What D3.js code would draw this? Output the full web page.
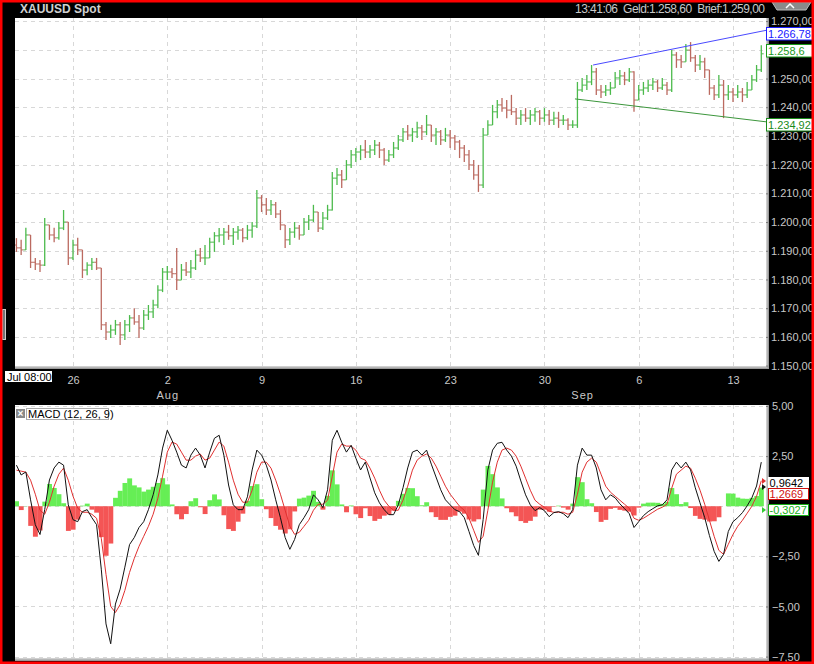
<!DOCTYPE html>
<html><head><meta charset="utf-8">
<script src="https://cdn.jsdelivr.net/npm/d3@7"></script>
<style>
html,body{margin:0;padding:0;background:#000;}
svg{display:block;font-family:"Liberation Sans",Arial,sans-serif;}
</style></head><body>
<svg id="c" width="814" height="664"></svg>
<script>
// ---------- data ----------
const dayTicks = [0,5,10,15,20,25,30,35];            // trading-day offsets (Mondays)
const dayLabels = ["26","2","9","16","23","30","6","13"];
const monthTicks = [5,27];
const monthLabels = ["Aug","Sep"];
const priceGrid = [1150,1160,1170,1180,1190,1200,1210,1220,1230,1240,1250,1260,1270];
const priceTicks = [1150,1160,1170,1180,1190,1200,1210,1220,1230,1240,1250,1270];
const macdGrid = [5,2.5,0,-2.5,-5,-7.5];
const macdTicks = [5,2.5,-2.5,-5,-7.5];
const firstDay = -3, barStep = 0.25;
const open0 = 1192.0;
const high = [1194.4,1193.8,1198,1195.5,1187.5,1186.8,1201.4,1199,1198,1200,
1204.2,1200,1193.8,1194.5,1190.3,1186,1187.5,1187.5,1184,1165.2,
1164.2,1165.9,1165.2,1165.9,1167.6,1170,1167.6,1169.4,1171.1,1172.9,
1178,1184,1184.7,1184,1191,1185.4,1186.1,1186.8,1190.3,1191,
1192,1194.5,1196.5,1197.9,1197.9,1199,1197.9,1198.6,1197.9,1199,
1200,1211.2,1209.4,1208.4,1207.7,1207,1204.2,1199,1197.9,1200,
1199,1201.4,1202.5,1206,1203.5,1203.5,1206,1217.4,1218.8,1218.1,
1221.6,1225.1,1225.8,1226.8,1228.6,1226.8,1228.6,1227.9,1225.8,1225.1,
1227.9,1230.3,1232.8,1233.8,1232.8,1234.9,1233.8,1237.3,1233.8,1232.8,
1232.1,1232.8,1232.1,1230.3,1228.6,1226.8,1225.1,1221.6,1219.9,1232.8,
1235.5,1240.8,1242.5,1243.2,1242.5,1244.3,1239.7,1239,1239.7,1239,
1239.7,1239,1239.7,1239,1238.4,1238.4,1237.3,1236.2,1235.5,1248.8,
1250.2,1251.2,1254.7,1253.7,1247.7,1247.7,1248.8,1252.3,1253,1252.3,
1253.7,1252.5,1247.7,1248.8,1249.5,1250.2,1249.5,1250.2,1248.8,1259.9,
1259.2,1258.2,1262,1262.7,1258.2,1258.2,1257.2,1253,1247.7,1251.2,
1249.5,1247.7,1246.7,1247.7,1246.7,1248.8,1251.2,1254.7,1261.6];
const low = [1189.6,1188.5,1190.3,1184,1183.3,1182.6,1184.7,1193.8,1193,1193.8,
1197.2,1185,1186.8,1188.5,1180.5,1181.5,1183.3,1183.3,1162.4,1158.9,
1159.6,1160.7,1157.2,1158.9,1161.7,1164.2,1159.6,1162.4,1165.9,1166.6,
1170,1175.6,1179.8,1180.5,1176.3,1179.8,1181.2,1180.5,1183.3,1186.1,
1185,1187.5,1189.6,1193,1192,1193.8,1192,1193.8,1193,1193.8,
1194.5,1197.9,1203.5,1202.5,1202.5,1201.4,1197.2,1191,1192,1194.5,
1193.8,1195.5,1197.2,1200,1196.5,1197.2,1200.7,1204,1212.9,1211.9,
1214.7,1218.8,1220.9,1221.6,1222.3,1222.3,1223.4,1222.3,1219.9,1220.9,
1222.3,1225.1,1227.9,1228.6,1227.9,1229.3,1228.6,1230.3,1227.9,1226.8,
1226.8,1227.9,1225.8,1225.1,1222.3,1220.9,1218.1,1214.7,1210.5,1211.9,
1230.3,1233.8,1236.2,1238.4,1236.2,1237.3,1233.8,1233.8,1234.9,1233.8,
1234.9,1233.8,1234.9,1233.8,1233.8,1232.8,1233.8,1232.1,1232.8,1232.8,
1245.3,1246,1247.7,1244.3,1243.2,1243.9,1244.3,1246.7,1247.7,1247.7,
1248.8,1238.4,1242.5,1244.3,1245.3,1246,1245.3,1246,1244.3,1245.3,
1253.7,1253.7,1255.8,1255.8,1252.3,1253,1250.2,1244.3,1242.5,1243.2,
1236.2,1242.5,1241.8,1243.2,1241.8,1243.2,1246,1248.8,1252.3];
const close = [1191.0,1190.3,1195.5,1186,1185.4,1185,1199,1195.5,1194.5,1197.9,
1200,1187.5,1192,1190.3,1183.3,1185,1186,1184,1164.2,1161.7,
1162.4,1164.2,1160.7,1164.2,1166.6,1165.2,1163.1,1167.6,1168.7,1171.1,
1176.3,1182.6,1182.6,1182,1179.8,1183.3,1182.6,1184,1188.5,1187.5,
1187.5,1193,1195.2,1195.5,1196.5,1195.2,1196.5,1197.2,1194.5,1197.2,
1198.6,1208.4,1206,1204.2,1206,1202.8,1199,1193.8,1196.5,1197.9,
1195.5,1200,1200.7,1203.5,1197.9,1201.4,1204.2,1215.3,1216.4,1214.7,
1219.9,1223.4,1224.4,1225.1,1224.4,1225.1,1226.8,1225.1,1221.6,1223.4,
1225.8,1228.6,1231.4,1230.3,1231.4,1232.8,1231.4,1233.8,1230.3,1231.4,
1228.6,1230.3,1229.3,1227.9,1225.8,1223.4,1219.9,1216.4,1212.9,1230.3,
1233.8,1238.4,1240.8,1239.7,1239,1238.4,1236.2,1237.3,1236.2,1237.3,
1238.4,1236.2,1237.3,1235.5,1236.2,1235.5,1235.5,1233.8,1233.8,1246,
1247.7,1248.8,1252.3,1246,1245.3,1246,1246.7,1250.2,1250.9,1249.5,
1252.3,1242.5,1246,1246.7,1247.7,1248.8,1246.7,1247.7,1246,1258.2,
1256.5,1255.8,1259.9,1257.2,1254.7,1255.8,1253,1246.7,1244.3,1247.7,
1244.3,1245.3,1244.3,1245.3,1244.3,1246,1249.5,1253,1258.6];
const macdLine = [2.05,1.56,1.71,0.32,-0.92,-1.41,-0.17,1.31,1.91,2.20,
2.05,0.07,-0.67,-0.77,-0.27,-0.17,-0.57,-0.92,-3.14,-5.87,
-6.86,-4.88,-4.13,-3.04,-1.91,-1.56,-1.06,-0.77,-0.17,0.57,
1.56,2.90,3.79,3.29,2.70,2.05,1.91,2.55,2.90,2.55,
1.91,2.70,3.39,3.54,2.55,1.06,0.07,-0.17,-0.17,0.47,
1.81,2.80,2.55,2.05,1.31,0.32,-0.57,-1.56,-2.15,-1.66,
-0.92,-0.57,-0.17,0.57,0.32,-0.07,0.82,3.29,3.79,3.19,
2.70,3.04,2.40,1.81,2.20,1.41,0.67,0.17,-0.17,-0.42,
-0.42,0.07,0.92,1.91,2.70,2.80,2.55,2.80,2.10,1.46,
0.82,0.32,0.07,-0.17,-0.27,-0.57,-1.26,-1.96,-2.45,-0.67,
1.81,2.80,3.14,3.19,2.80,2.50,2.00,1.26,0.57,0.07,
-0.22,-0.07,-0.22,-0.52,-0.32,-0.27,-0.37,-0.57,-0.17,2.05,
2.90,2.55,2.55,1.91,0.82,0.32,0.57,0.42,0.12,-0.12,
-0.37,-1.06,-0.77,-0.47,-0.27,-0.12,0.02,0.07,0.32,1.81,
2.20,1.91,2.20,1.81,0.92,0.17,-0.57,-1.46,-2.25,-2.75,
-2.40,-1.26,-0.77,-0.57,-0.32,0.02,0.42,1.01,2.20];
const signalLine = [1.8,1.75,1.7,1.3,0.6,-0.2,-0.4,0.2,1.0,1.6,
1.9,1.3,0.5,-0.1,-0.3,-0.3,-0.4,-0.6,-1.6,-3.4,
-5.0,-5.3,-4.9,-4.2,-3.3,-2.6,-2.0,-1.5,-1.0,-0.4,
0.4,1.5,2.7,3.2,3.1,2.7,2.3,2.3,2.5,2.6,
2.3,2.4,2.8,3.2,3.0,2.2,1.3,0.6,0.2,0.2,
0.8,1.7,2.2,2.2,1.9,1.3,0.6,-0.2,-1.0,-1.4,
-1.3,-1.0,-0.7,-0.2,0.1,0.1,0.3,1.5,2.7,3.1,
3.0,3.0,2.8,2.4,2.3,1.9,1.4,0.8,0.3,0.0,
-0.2,-0.2,0.3,1.0,1.8,2.3,2.5,2.6,2.4,2.0,
1.5,1.0,0.6,0.3,0.0,-0.2,-0.6,-1.2,-1.8,-1.5,
-0.2,1.2,2.2,2.8,2.9,2.8,2.5,2.0,1.4,0.8,
0.3,0.1,-0.05,-0.25,-0.3,-0.3,-0.3,-0.4,-0.3,0.6,
1.7,2.2,2.4,2.2,1.6,1.0,0.7,0.5,0.3,0.1,
-0.1,-0.6,-0.7,-0.6,-0.45,-0.3,-0.15,-0.05,0.1,0.9,
1.6,1.8,2.0,1.9,1.4,0.8,0.1,-0.7,-1.5,-2.2,
-2.4,-1.9,-1.4,-1.0,-0.7,-0.35,0.0,0.5,1.27];
const upperTrend = [{day:27.58, p:1254.7},{day:36.75, p:1266.78}];
const lowerTrend = [{day:26.62, p:1242.9},{day:36.75, p:1234.92}];
const headerRight = "13:41:06  Geld:1.258,60  Brief:1.259,00";
const priceBoxes = [{t:"1.266,78",y:33.5,c:"#2020ff"},{t:"1.258,6",y:50.5,c:"#1a9a1a"},{t:"1.234,92",y:124.5,c:"#1a8a1a"}];
const macdBoxes = [{t:"0,9642",c:"#000",y:483},{t:"1,2669",c:"#d01010",y:494},{t:"-0,3027",c:"#18b018",y:510}];

// ---------- setup ----------
const W=814,H=664;
const svg=d3.select("#c");
const P={x0:15,x1:766,y0:18,y1:366};
const M={x0:15,x1:766,y0:405,y1:658};
const x=d3.scaleLinear().domain([0,35]).range([73,733]);
const yP=d3.scaleLinear().domain([1150,1270]).range([365.6,21.1]);
const yM=d3.scaleLinear().domain([-7.5,5]).range([656.6,406]);
const de=d3.formatLocale({decimal:",",thousands:".",grouping:[3],currency:["","€"]});
const fP=de.format(",.2f");
const fM=de.format(".2f");
const txtCol="#c8c8c8";

svg.append("rect").attr("width",W).attr("height",H).attr("fill","#000");

// panels with bevel
[P,M].forEach(r=>{
  svg.append("rect").attr("x",r.x0).attr("y",r.y0).attr("width",r.x1-r.x0+3).attr("height",r.y1-r.y0+3).attr("fill","#9a9a9a");
  svg.append("rect").attr("x",r.x0).attr("y",r.y0).attr("width",r.x1-r.x0+1.5).attr("height",r.y1-r.y0+1.5).attr("fill","#cfcfcf");
  svg.append("rect").attr("x",r.x0).attr("y",r.y0).attr("width",r.x1-r.x0).attr("height",r.y1-r.y0).attr("fill","#fff");
});
const defs=svg.append("defs");
defs.append("clipPath").attr("id","cp").append("rect").attr("x",P.x0).attr("y",P.y0).attr("width",P.x1-P.x0).attr("height",P.y1-P.y0);
defs.append("clipPath").attr("id","cm").append("rect").attr("x",M.x0).attr("y",M.y0).attr("width",M.x1-M.x0).attr("height",M.y1-M.y0);

const gridStyle=s=>s.attr("stroke","#d8d8d8").attr("stroke-width",1).attr("stroke-dasharray","4,4").attr("shape-rendering","crispEdges");
const gP=svg.append("g").attr("clip-path","url(#cp)");
gP.selectAll(".hv").data(dayTicks).join("line").attr("x1",d=>Math.round(x(d))+.5).attr("x2",d=>Math.round(x(d))+.5).attr("y1",P.y0).attr("y2",P.y1).call(gridStyle);
gP.selectAll(".hh").data(priceGrid).join("line").attr("x1",P.x0).attr("x2",P.x1).attr("y1",d=>Math.round(yP(d))+.5).attr("y2",d=>Math.round(yP(d))+.5).call(gridStyle);
const gM=svg.append("g").attr("clip-path","url(#cm)");
gM.selectAll(".mv").data(dayTicks).join("line").attr("x1",d=>Math.round(x(d))+.5).attr("x2",d=>Math.round(x(d))+.5).attr("y1",M.y0).attr("y2",M.y1).call(gridStyle);
gM.selectAll(".mh").data(macdGrid).join("line").attr("x1",M.x0).attr("x2",M.x1).attr("y1",d=>Math.round(yM(d))+.5).attr("y2",d=>Math.round(yM(d))+.5).call(gridStyle);

// price bars
const bars=close.map((c,i)=>({d:firstDay+i*barStep,o:i?close[i-1]:open0,h:high[i],l:low[i],c}));
const up="#4cba4c", dn="#bb6a60";
const gb=gP.append("g").attr("stroke-width",1);
bars.forEach(b=>{
  const xx=x(b.d), col=b.c>=b.o?up:dn;
  gb.append("line").attr("x1",xx).attr("x2",xx).attr("y1",yP(Math.max(b.h,b.o,b.c))).attr("y2",yP(Math.min(b.l,b.o,b.c))).attr("stroke",col).attr("stroke-width",1.3);
  gb.append("line").attr("x1",xx-2.4).attr("x2",xx).attr("y1",yP(b.o)).attr("y2",yP(b.o)).attr("stroke",col);
  gb.append("line").attr("x1",xx).attr("x2",xx+2.4).attr("y1",yP(b.c)).attr("y2",yP(b.c)).attr("stroke",col);
});
const tl=d3.line().x(d=>x(d.day)).y(d=>yP(d.p));
gP.append("path").attr("d",tl(upperTrend)).attr("fill","none").attr("stroke","#4a4aff").attr("stroke-width",1);
gP.append("path").attr("d",tl(lowerTrend)).attr("fill","none").attr("stroke","#3c963c").attr("stroke-width",1);

// MACD histogram and lines
const bw=x(barStep)-x(0);
const hist=macdLine.map((m,i)=>({d:firstDay+i*barStep,v:m-signalLine[i]}));
gM.selectAll(".hb").data(hist).join("rect")
  .attr("x",d=>x(d.d)-bw/2).attr("width",bw+0.2)
  .attr("y",d=>Math.min(yM(0),yM(d.v))).attr("height",d=>Math.abs(yM(d.v)-yM(0)))
  .attr("fill",d=>d.v>=0?"#66ee55":"#f45555");
const ml=d3.line().x((d,i)=>x(firstDay+i*barStep)).y(d=>yM(d));
gM.append("path").attr("d",ml(signalLine)).attr("fill","none").attr("stroke","#e03030").attr("stroke-width",1);
gM.append("path").attr("d",ml(macdLine)).attr("fill","none").attr("stroke","#111").attr("stroke-width",1);

// axes
const axP=svg.append("g").attr("transform",`translate(${P.x1},0)`)
  .call(d3.axisRight(yP).tickValues(priceTicks).tickFormat(fP).tickSize(2).tickPadding(3));
const axM=svg.append("g").attr("transform",`translate(${M.x1},0)`)
  .call(d3.axisRight(yM).tickValues(macdTicks).tickFormat(fM).tickSize(2).tickPadding(4));
const axX=svg.append("g").attr("transform","translate(0,374)")
  .call(d3.axisBottom(x).tickValues(dayTicks).tickFormat((d,i)=>dayLabels[i]).tickSize(0).tickPadding(2));
const axMo=svg.append("g").attr("transform","translate(0,389)")
  .call(d3.axisBottom(x).tickValues(monthTicks).tickFormat((d,i)=>monthLabels[i]).tickSize(0).tickPadding(2));
[axP,axM,axX,axMo].forEach(a=>{
  a.select(".domain").remove();
  a.selectAll("text").attr("fill",txtCol).style("font-size","11px").style("font-family","'Liberation Sans',Arial,sans-serif");
  a.selectAll("line").attr("stroke","#777");
});
axMo.selectAll("text").style("letter-spacing","1px");

// header
svg.append("text").attr("x",20).attr("y",12.5).text("XAUUSD Spot").attr("fill","#d0d0d0").style("font-size","12px").style("font-weight","bold");
svg.append("text").attr("x",575).attr("y",12.5).text(headerRight).attr("fill","#c8c8c8").style("font-size","12px")
  .attr("textLength",190).attr("lengthAdjust","spacing").style("white-space","pre");
svg.append("path").attr("d","M772,2 L811,2 L806,10 L777,10 Z").attr("fill","#8a8a8a").attr("stroke","#bbb");
svg.append("path").attr("d","M786,8 L790,4 L794,8").attr("fill","none").attr("stroke","#fff").attr("stroke-width",1.5);

// left handle
svg.append("rect").attr("x",2.5).attr("y",309.5).attr("width",3).attr("height",30).attr("fill","#777").attr("stroke","#ccc");

// Jul box
svg.append("rect").attr("x",5).attr("y",371).attr("width",47).attr("height",11).attr("fill","#fff");
svg.append("text").attr("x",7).attr("y",380.5).text("Jul 08:00").attr("fill","#000").style("font-size","11px");

// MACD legend
svg.append("rect").attr("x",16).attr("y",409).attr("width",9).attr("height",9).attr("fill","#8a8a8a");
svg.append("text").attr("x",20.5).attr("y",416.5).attr("text-anchor","middle").text("×").attr("fill","#fff").style("font-size","10px").style("font-weight","bold");
svg.append("rect").attr("x",26.5).attr("y",408.5).attr("width",82).attr("height",11).attr("fill","#fff").attr("stroke","#aaa");
svg.append("text").attr("x",28).attr("y",418).text("MACD (12, 26, 9)").attr("fill","#000").style("font-size","11px");

// value boxes
priceBoxes.forEach(b=>{
  svg.append("rect").attr("x",766.5).attr("y",b.y-6).attr("width",50).attr("height",12.5).attr("fill","#fff").attr("stroke",b.c);
  svg.append("text").attr("x",768).attr("y",b.y+4.5).text(b.t).attr("fill",b.c).style("font-size","11px");
});
macdBoxes.forEach(b=>{
  svg.append("rect").attr("x",768.5).attr("y",b.y-5.5).attr("width",40).attr("height",11).attr("fill","#fff").attr("stroke",b.c==="#000"?"#fff":b.c);
  svg.append("text").attr("x",769.5).attr("y",b.y+4).text(b.t).attr("fill",b.c).style("font-size","11px");
});
svg.append("path").attr("d","M762,478 L766,481 L762,484 Z").attr("fill","#e03030");
svg.append("path").attr("d","M762,484 L766,487 L762,490 Z").attr("fill","#111");
svg.append("path").attr("d","M762,507 L766,510 L762,513 Z").attr("fill","#33cc33");

// red frame
svg.append("rect").attr("x",1.25).attr("y",1.25).attr("width",W-2.5).attr("height",H-2.5).attr("fill","none").attr("stroke","#f00").attr("stroke-width",2.5);
</script>
</body></html>
